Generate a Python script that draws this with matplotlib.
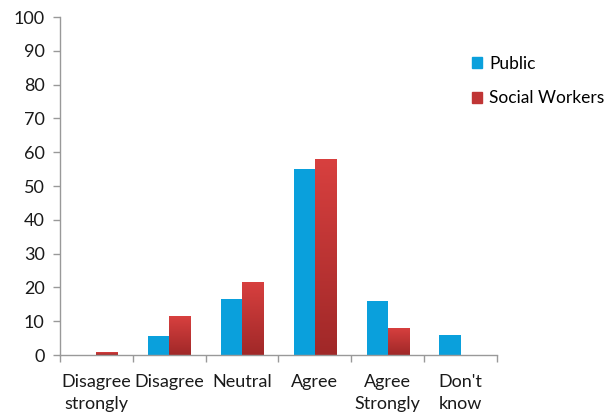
import numpy as np
import matplotlib.pyplot as plt
from matplotlib.colors import LinearSegmentedColormap
from matplotlib.patches import Patch

categories = ["Disagree\nstrongly", "Disagree", "Neutral", "Agree", "Agree\nStrongly", "Don't\nknow"]
public = [0, 5.7, 16.5, 55, 16, 5.9]
social_workers = [0.8, 11.4, 21.6, 58, 8, 0]
series_names = ["Public", "Social Workers"]

plt.rcParams['font.family'] = ['Lato', 'DejaVu Sans']

fig = plt.figure(figsize=(6.16, 4.17), dpi=100)
ax = fig.add_axes([60 / 616, 62 / 417, 437 / 616, 338 / 417])

x = np.arange(len(categories))
w = 0.29
blue = "#0aa0dc"
red_top = "#d8403f"
red_bot = "#a02828"

ax.bar(x - w / 2, public, w, color=blue, linewidth=0)
red_bars = ax.bar(x + w / 2, social_workers, w, color=red_top, linewidth=0)

cmap = LinearSegmentedColormap.from_list("redgrad", [red_bot, red_top])
grad = np.linspace(0, 1, 256).reshape(-1, 1)
for b in red_bars:
    h = b.get_height()
    if h <= 0:
        continue
    x0 = b.get_x()
    im = ax.imshow(grad, cmap=cmap, origin="lower", aspect="auto",
                   extent=[x0, x0 + b.get_width(), 0, h], zorder=2)
    im.set_clip_path(b)

ax.set_xlim(-0.5, len(categories) - 0.5)
ax.set_ylim(0, 100)
ax.set_yticks(range(0, 101, 10))

ax.set_xticks(np.arange(-0.5, len(categories), 1.0))
ax.set_xticklabels([])
ax.set_xticks(x, minor=True)
ax.set_xticklabels(categories, minor=True, fontsize=13, color="#1a1a1a", linespacing=1.4)
ax.tick_params(axis="x", which="minor", length=0, pad=14)
ax.tick_params(axis="x", which="major", length=5, color="#999999", width=1)
ax.tick_params(axis="y", length=5, color="#999999", width=1, labelsize=13,
               labelcolor="#1a1a1a", pad=6)

for s in ["top", "right"]:
    ax.spines[s].set_visible(False)
for s in ["left", "bottom"]:
    ax.spines[s].set_color("#999999")
    ax.spines[s].set_linewidth(1)

handles = [Patch(color=blue), Patch(color="#c03535")]
fig.legend(handles, series_names, loc="upper left", bbox_to_anchor=(472 / 616, 1 - 56 / 417),
           frameon=False, fontsize=12.5, handlelength=0.6, handleheight=0.6,
           handletextpad=0.4, labelspacing=1.05, borderpad=0, borderaxespad=0)

fig.savefig("out.png", dpi=100)
